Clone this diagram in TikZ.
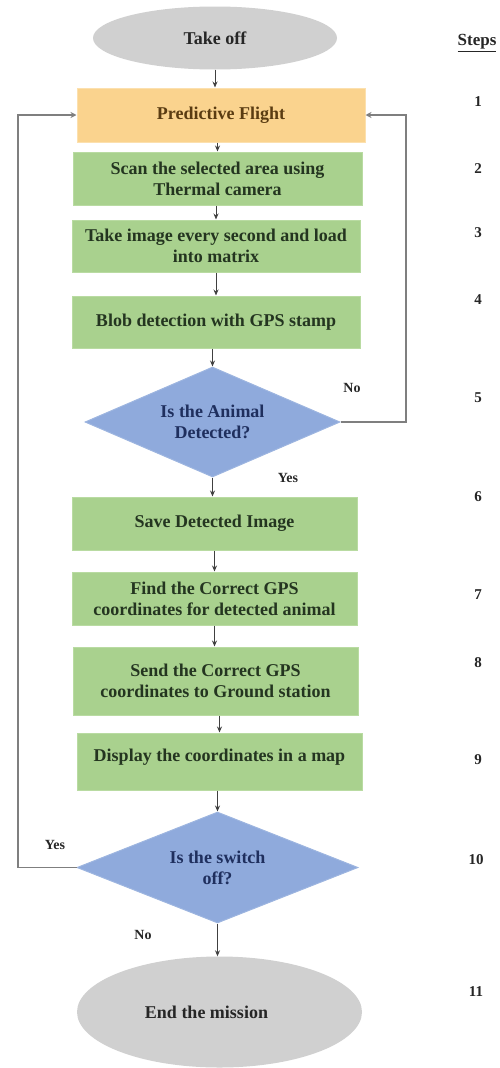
\documentclass[tikz,border=0pt]{standalone}
\usepackage{fontspec}
\setmainfont{Liberation Serif}
\usetikzlibrary{shapes.geometric,arrows.meta}
\definecolor{boxgreen}{HTML}{A9D18E}
\definecolor{boxgreenline}{HTML}{B9DBA2}
\definecolor{flightfill}{HTML}{FAD38E}
\definecolor{flightline}{HTML}{FCE0AE}
\definecolor{diafill}{HTML}{8FAADC}
\definecolor{dialine}{HTML}{9DB5E0}
\definecolor{ovalfill}{HTML}{D0D0D0}
\definecolor{greentext}{HTML}{243520}
\definecolor{browntext}{HTML}{5A3C12}
\definecolor{bluetext}{HTML}{1F2F5E}
\definecolor{loopgray}{HTML}{7F7F7F}
\tikzset{
  procbox/.style={rectangle, fill=boxgreen, draw=boxgreenline, line width=1pt, inner sep=2pt,
    align=center, font=\bfseries\fontsize{18}{21}\selectfont, text=greentext},
  flightbox/.style={procbox, fill=flightfill, draw=flightline, text=browntext},
  decision/.style={diamond, aspect=2.3, fill=diafill, draw=dialine, line width=1pt, inner sep=0pt,
    align=center, font=\bfseries\fontsize{18}{21}\selectfont, text=bluetext},
  oval/.style={ellipse, fill=ovalfill, draw=none, inner sep=0pt,
    font=\bfseries\fontsize{18}{21}\selectfont, text=black!85},
  flow/.style={draw=black!75, line width=1pt, -{Stealth[length=6pt,width=5pt]}},
  loop/.style={draw=loopgray, line width=1.5pt, -{Stealth[length=6pt,width=6pt,open]}},
  steplabel/.style={font=\bfseries\fontsize{15}{17}\selectfont, text=black!85},
  answer/.style={font=\bfseries\fontsize{14}{16}\selectfont, text=black!85}
}
\begin{document}
\begin{tikzpicture}[x=1pt,y=-1pt]
\useasboundingbox (0,0) rectangle (500,1068);
% main nodes
\node[oval, minimum width=244pt, minimum height=63pt] (takeoff) at (215,38) {Take off};
\node[flightbox, minimum width=288pt, minimum height=54pt] (pf) at (221,115) {Predictive Flight};
\node[procbox, minimum width=289pt, minimum height=53pt] (scan) at (217.5,178.5) {Scan the selected area using\\Thermal camera};
\node[procbox, minimum width=288pt, minimum height=52pt] (take) at (216,246) {Take image every second and load\\into matrix};
\node[procbox, minimum width=288pt, minimum height=52pt] (blob) at (216,322) {Blob detection with GPS stamp};
\node[decision, minimum width=255pt, minimum height=110pt] (d1) at (212.5,422) {Is the Animal\\Detected?};
\node[procbox, minimum width=285pt, minimum height=53pt] (save) at (214.5,523.5) {Save Detected Image};
\node[procbox, minimum width=285pt, minimum height=53pt] (find) at (214.5,598.5) {Find the Correct GPS\\coordinates for detected animal};
\node[procbox, minimum width=285pt, minimum height=68pt] (send) at (215.5,681) {Send the Correct GPS\\coordinates to Ground station};
\node[procbox, minimum width=285pt, minimum height=57pt] (disp) at (219.5,761.5) {\raisebox{12pt}{Display the coordinates in a map}};
\node[decision, minimum width=281pt, minimum height=111pt] (d2) at (217.5,867.5) {Is the switch\\off?};
\node[oval, minimum width=285pt, minimum height=111pt] (end) at (219.5,1012) {End the mission\hspace*{26pt}};
% flow arrows
\draw[flow] (takeoff.south) -- (takeoff.south |- pf.north);
\draw[flow] (pf.south -| scan.north) -- (scan.north);
\draw[flow] (scan.south -| take.north) -- (take.north);
\draw[flow] (take.south) -- (take.south |- blob.north);
\draw[flow] (blob.south -| d1.north) -- (d1.north);
\draw[flow] (d1.south) -- (d1.south |- save.north);
\draw[flow] (save.south) -- (save.south |- find.north);
\draw[flow] (find.south) -- (find.south |- send.north);
\draw[flow] (send.south -| disp.north) -- (disp.north);
\draw[flow] (disp.south -| d2.north) -- (d2.north);
\draw[flow] (d2.south) -- (d2.south |- end.north);
% loops
\coordinate (rtop) at (406,115);
\coordinate (ltop) at (18,115);
\draw[loop] (d1.east) -| (rtop) -- (pf.east);
\draw[loop] (d2.west) -| (ltop) -- (pf.west);
% answers
\node[answer] (no1) at (352,388) {No};
\node[answer] (yes1) at (288,478) {Yes};
\node[answer] (yes2) at (55,845) {Yes};
\node[answer] (no2) at (143,935) {No};
% steps column
\node[steplabel, font=\bfseries\fontsize{17}{19}\selectfont] (steps) at (477,43) {\underline{Steps}};
\node[steplabel] (s1) at (478,102) {1};
\node[steplabel] (s2) at (478,169) {2};
\node[steplabel] (s3) at (478,233) {3};
\node[steplabel] (s4) at (478,300) {4};
\node[steplabel] (s5) at (478,398) {5};
\node[steplabel] (s6) at (478,497) {6};
\node[steplabel] (s7) at (478,595) {7};
\node[steplabel] (s8) at (478,663) {8};
\node[steplabel] (s9) at (478,760) {9};
\node[steplabel] (s10) at (476,860) {10};
\node[steplabel] (s11) at (476,992) {11};
\end{tikzpicture}
\end{document}
